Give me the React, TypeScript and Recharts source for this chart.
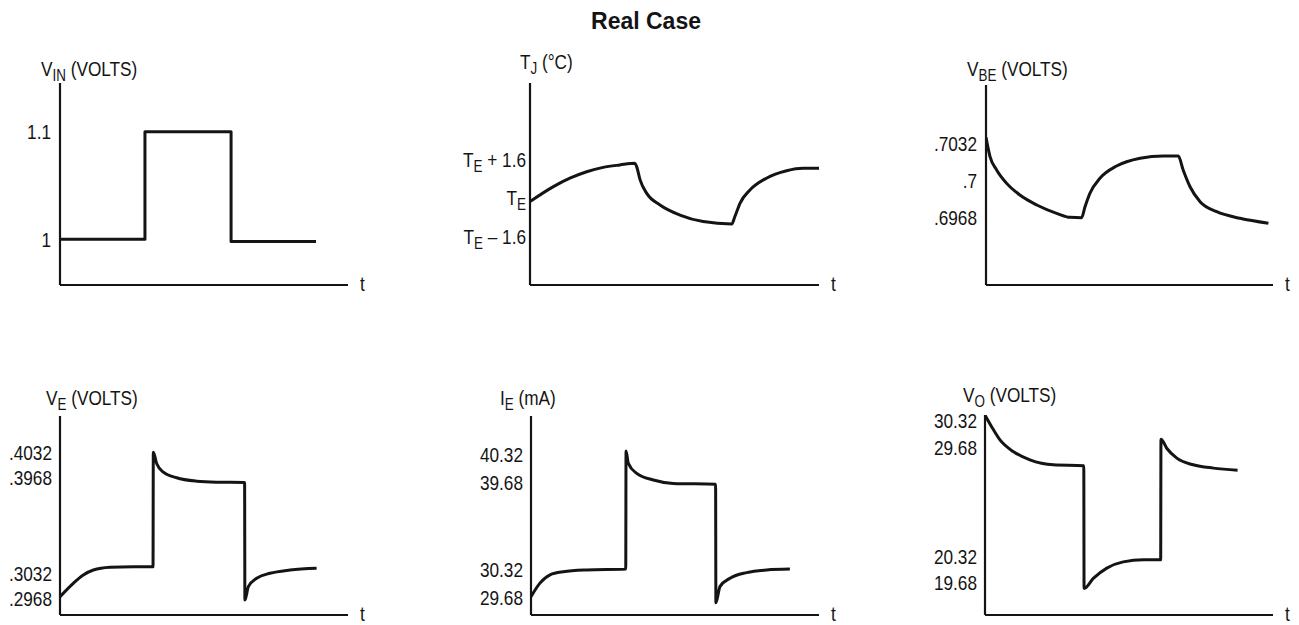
import React from 'react';
import { LineChart, Line, XAxis, YAxis } from 'recharts';

const FONT = "'Liberation Sans', Arial, Helvetica, sans-serif";
const INK = '#141414';
const CONDENSE = 0.82;

// ---------- data (time in arbitrary units 0..10) ----------
const vinT = [0, 2.95, 2.95, 5.94, 5.94, 8.89];
const vinV = [1.0, 1.0, 1.1, 1.1, 0.998, 0.998];
const vinTicks = [1, 1.1];
const vinTickLabels = ['1', '1.1'];

// T_J expressed as offset from T_E (°C)
const tjT = [0, 0.81, 1.38, 1.96, 2.53, 3.11, 3.63, 3.69, 3.81, 4.04, 4.5, 5.19, 5.99, 6.98, 7.09, 7.27, 7.61, 8.18, 8.88, 9.45, 10.0];
const tjV = [-0.15, 0.47, 0.82, 1.09, 1.27, 1.37, 1.44, 1.3, 0.75, 0.19, -0.29, -0.71, -0.98, -1.08, -0.77, -0.21, 0.33, 0.82, 1.13, 1.23, 1.23];
const tjTicks = [-1.6, 0, 1.6];
const tjTickLabels = ['T_{E} \u2013 1.6', 'T_{E}', 'T_{E} + 1.6'];

const vbeT = [0, 0.14, 0.37, 0.72, 1.18, 1.77, 2.46, 2.93, 3.33, 3.45, 3.62, 3.97, 4.55, 5.37, 6.18, 6.7, 6.87, 7.11, 7.46, 8.04, 8.85, 9.84];
const vbeV = [0.70369, 0.70202, 0.70087, 0.69971, 0.6987, 0.69784, 0.69712, 0.69677, 0.69674, 0.69769, 0.69885, 0.70015, 0.70121, 0.70188, 0.70208, 0.70208, 0.70087, 0.69942, 0.69812, 0.69726, 0.69669, 0.69626];
const vbeTicks = [0.6968, 0.7, 0.7032];
const vbeTickLabels = ['.6968', '.7', '.7032'];

const veT = [0, 0.46, 0.81, 1.16, 1.74, 2.55, 3.23, 3.24, 3.36, 3.59, 4.05, 4.75, 5.44, 6.41, 6.42, 6.54, 6.83, 7.29, 7.99, 8.91];
const veV = [0.29714, 0.30064, 0.30281, 0.30411, 0.30482, 0.30498, 0.30498, 0.40341, 0.40038, 0.39818, 0.39672, 0.39583, 0.39557, 0.39549, 0.29628, 0.29975, 0.30195, 0.30325, 0.30411, 0.30456];
const veTicks = [0.2968, 0.3032, 0.3968, 0.4032];
const veTickLabels = ['.2968', '.3032', '.3968', '.4032'];

const ieT = [0, 0.31, 0.66, 1.12, 1.93, 3.29, 3.3, 3.38, 3.67, 4.25, 4.94, 6.41, 6.42, 6.56, 6.91, 7.49, 8.18, 8.99];
const ieV = [29.71, 30.02, 30.21, 30.28, 30.32, 30.34, 40.41, 40.13, 39.9, 39.75, 39.67, 39.65, 29.57, 29.94, 30.13, 30.26, 30.32, 30.34];
const ieTicks = [29.68, 30.32, 39.68, 40.32];
const ieTickLabels = ['29.68', '30.32', '39.68', '40.32'];

const voT = [0, 0.23, 0.52, 0.98, 1.56, 2.37, 3.43, 3.44, 3.76, 4.23, 4.8, 5.5, 6.1, 6.11, 6.31, 6.66, 7.23, 7.93, 8.77];
const voV = [30.45, 30.17, 29.85, 29.57, 29.37, 29.25, 29.23, 19.55, 19.79, 20.04, 20.19, 20.24, 20.24, 29.87, 29.65, 29.41, 29.25, 29.17, 29.12];
const voTicks = [19.68, 20.32, 29.68, 30.32];
const voTickLabels = ['19.68', '20.32', '29.68', '30.32'];

// ---------- layout ----------
const ML = 80; // y-axis area width inside each chart
const MT = 50;
const MR = 40;
const XH = 20;

const identity = (v: number) => v;
const broken = (split: number, shift: number) => (v: number) => (v < split ? v : v - shift);

type Panel = {
  t: number[]; v: number[]; ticks: number[]; labels: string[];
  title: string; map: (v: number) => number; domain: [number, number];
  ax: number; top: number; bottom: number; right: number;
  titleDx: number; titleDy: number; tickGap: number; curve: 'linear' | 'monotoneX';
};

const panels: Panel[] = [
  { t: vinT, v: vinV, ticks: vinTicks, labels: vinTickLabels, title: 'V_{IN} (VOLTS)', map: identity, domain: [0.9575, 1.1453],
    ax: 60, top: 83, bottom: 285, right: 348, titleDx: -19, titleDy: -7, tickGap: 9, curve: 'linear' },
  { t: tjT, v: tjV, ticks: tjTicks, labels: tjTickLabels, title: 'T_{J} (\u00B0C)', map: identity, domain: [-3.61, 4.77],
    ax: 530, top: 83, bottom: 285, right: 819, titleDx: -10, titleDy: -14, tickGap: 4, curve: 'monotoneX' },
  { t: vbeT, v: vbeV, ticks: vbeTicks, labels: vbeTickLabels, title: 'V_{BE} (VOLTS)', map: identity, domain: [0.69092, 0.70822],
    ax: 986, top: 85, bottom: 285, right: 1273, titleDx: -19, titleDy: -9, tickGap: 9, curve: 'monotoneX' },
  { t: veT, v: veV, ticks: veTicks, labels: veTickLabels, title: 'V_{E} (VOLTS)', map: broken(0.35, 0.06852), domain: [0.29236, 0.34434],
    ax: 60, top: 416, bottom: 615, right: 348, titleDx: -14, titleDy: -11, tickGap: 8, curve: 'monotoneX' },
  { t: ieT, v: ieV, ticks: ieTicks, labels: ieTickLabels, title: 'I_{E} (mA)', map: broken(35, 7.3714), domain: [29.2914, 33.84],
    ax: 531, top: 416, bottom: 615, right: 819, titleDx: -31, titleDy: -11, tickGap: 8, curve: 'monotoneX' },
  { t: voT, v: voV, ticks: voTicks, labels: voTickLabels, title: 'V_{O} (VOLTS)', map: broken(25, 6.715), domain: [18.907, 23.738],
    ax: 985, top: 415, bottom: 615, right: 1273, titleDx: -22, titleDy: -13, tickGap: 8, curve: 'monotoneX' },
];

function parse(s: string) {
  const out: { t: string; sub: boolean }[] = [];
  const re = /_\{([^}]*)\}/g;
  let last = 0;
  let m: RegExpExecArray | null;
  while ((m = re.exec(s))) {
    if (m.index > last) out.push({ t: s.slice(last, m.index), sub: false });
    out.push({ t: m[1], sub: true });
    last = re.lastIndex;
  }
  if (last < s.length) out.push({ t: s.slice(last), sub: false });
  return out;
}

function Rich({ s, x, y, anchor, size = 21 }: { s: string; x: number; y: number; anchor: 'start' | 'end'; size?: number }) {
  const parts = parse(s);
  const SUB = 5;
  let cur = 0;
  return (
    <g transform={`translate(${x},${y}) scale(${CONDENSE},1)`}>
      <text x={0} y={0} textAnchor={anchor} fontFamily={FONT} fontSize={size} fill={INK} style={{ whiteSpace: 'pre' }}>
        {parts.map((p, i) => {
          const target = p.sub ? SUB : 0;
          const dy = target - cur;
          cur = target;
          return (
            <tspan key={i} dy={dy} fontSize={p.sub ? size * 0.78 : size}>
              {p.t}
            </tspan>
          );
        })}
      </text>
    </g>
  );
}

function PanelChart({ p }: { p: Panel }) {
  const plotW = p.right - p.ax;
  const plotH = p.bottom - p.top;
  const width = plotW + ML + MR;
  const height = plotH + MT + XH;
  const data = p.t.map((t, i) => ({ t, y: p.map(p.v[i]) }));
  const tickVals = p.ticks.map(p.map);

  const YTick = (props: any) => {
    const { y, index } = props;
    return <Rich s={p.labels[index]} x={ML - p.tickGap} y={y + 7.5} anchor="end" />;
  };

  return (
    <div style={{ position: 'absolute', left: p.ax - ML, top: p.top - MT, width, height }}>
      <LineChart width={width} height={height} data={data} margin={{ top: MT, right: MR, bottom: 0, left: 0 }}>
        <XAxis
          dataKey="t"
          type="number"
          domain={[0, 10]}
          allowDataOverflow
          tick={false}
          tickLine={false}
          height={XH}
          axisLine={{ stroke: INK, strokeWidth: 2.2 }}
          label={() => <Rich s="t" x={ML + plotW + 12} y={MT + plotH + 6} anchor="start" />}
        />
        <YAxis
          type="number"
          domain={p.domain}
          allowDataOverflow
          ticks={tickVals}
          interval={0}
          tickLine={false}
          tickSize={0}
          tickMargin={0}
          width={ML}
          tick={YTick}
          axisLine={{ stroke: INK, strokeWidth: 2.2 }}
          label={() => <Rich s={p.title} x={ML + p.titleDx} y={MT + p.titleDy} anchor="start" />}
        />
        <Line
          type={p.curve}
          dataKey="y"
          stroke={INK}
          strokeWidth={3}
          dot={false}
          activeDot={false}
          isAnimationActive={false}
          strokeLinejoin="round"
        />
      </LineChart>
    </div>
  );
}

export default function App() {
  return (
    <div style={{ position: 'absolute', left: 0, top: 0, width: 1299, height: 625, background: '#fff', overflow: 'hidden' }}>
      <svg width={1299} height={40} style={{ position: 'absolute', left: 0, top: 0 }}>
        <text x={646} y={29} textAnchor="middle" fontFamily={FONT} fontWeight="bold" fontSize={23} fill={INK}>
          Real Case
        </text>
      </svg>
      {panels.map((p, i) => (
        <PanelChart key={i} p={p} />
      ))}
    </div>
  );
}
